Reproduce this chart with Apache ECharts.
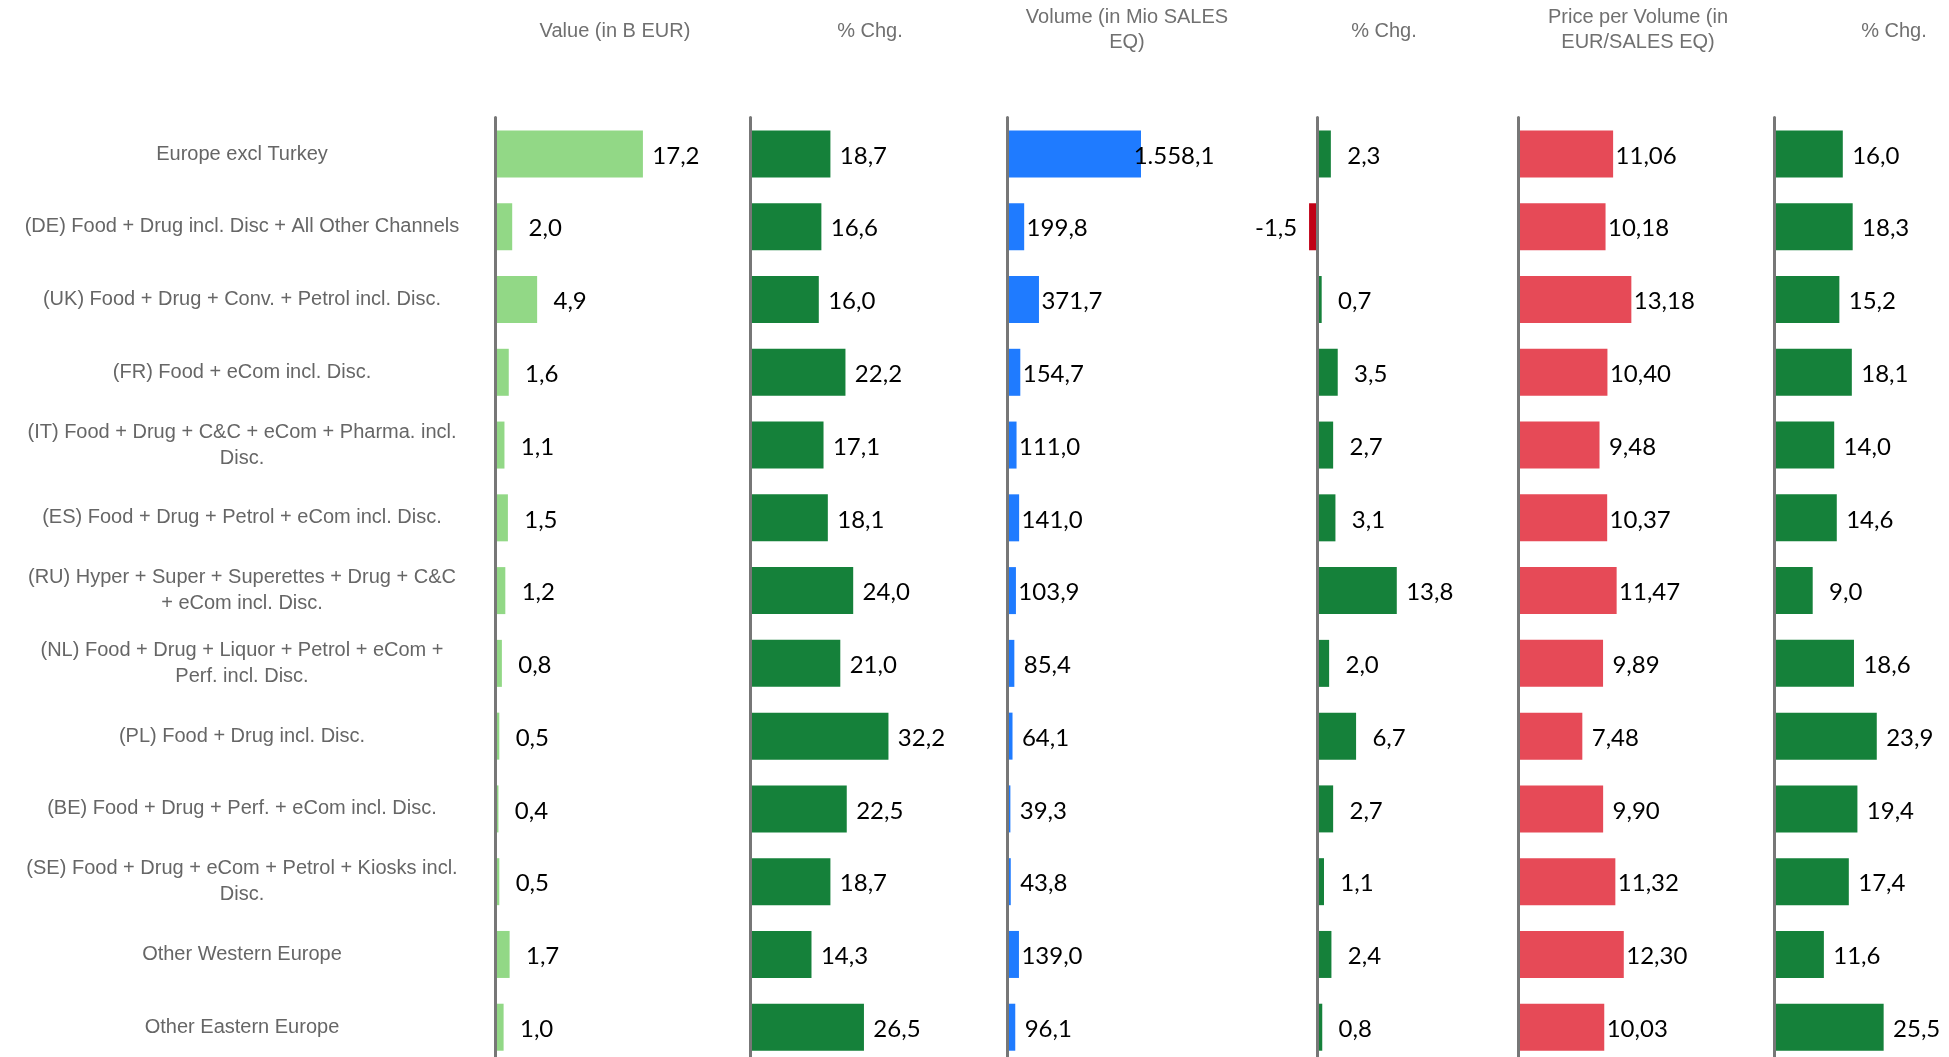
<!DOCTYPE html>
<html>
<head>
<meta charset="utf-8">
<script src="https://cdn.jsdelivr.net/npm/echarts@6/dist/echarts.min.js"></script>
<style>
  html, body { margin: 0; padding: 0; background: #fff; }
  #chart { width: 1949px; height: 1057px; }
</style>
</head>
<body>
<div id="chart"></div>
<script>
// categories (top to bottom)
const categories = [
  'Europe excl Turkey',
  '(DE) Food + Drug incl. Disc + All Other Channels',
  '(UK) Food + Drug + Conv. + Petrol incl. Disc.',
  '(FR) Food + eCom incl. Disc.',
  '(IT) Food + Drug + C&C + eCom + Pharma. incl.\nDisc.',
  '(ES) Food + Drug + Petrol + eCom incl. Disc.',
  '(RU) Hyper + Super + Superettes + Drug + C&C\n+ eCom incl. Disc.',
  '(NL) Food + Drug + Liquor + Petrol + eCom +\nPerf. incl. Disc.',
  '(PL) Food + Drug incl. Disc.',
  '(BE) Food + Drug + Perf. + eCom incl. Disc.',
  '(SE) Food + Drug + eCom + Petrol + Kiosks incl.\nDisc.',
  'Other Western Europe',
  'Other Eastern Europe'
];

const headers = ['Value (in B EUR)', '% Chg.', 'Volume (in Mio SALES\nEQ)', '% Chg.', 'Price per Volume (in\nEUR/SALES EQ)', '% Chg.'];

const valueBEur = [17.2, 2.0, 4.9, 1.6, 1.1, 1.5, 1.2, 0.8, 0.5, 0.4, 0.5, 1.7, 1.0];
const valueChg  = [18.7, 16.6, 16.0, 22.2, 17.1, 18.1, 24.0, 21.0, 32.2, 22.5, 18.7, 14.3, 26.5];
const volume    = [1558.1, 199.8, 371.7, 154.7, 111.0, 141.0, 103.9, 85.4, 64.1, 39.3, 43.8, 139.0, 96.1];
const volumeChg = [2.3, -1.5, 0.7, 3.5, 2.7, 3.1, 13.8, 2.0, 6.7, 2.7, 1.1, 2.4, 0.8];
const price     = [11.06, 10.18, 13.18, 10.40, 9.48, 10.37, 11.47, 9.89, 7.48, 9.90, 11.32, 12.30, 10.03];
const priceChg  = [16.0, 18.3, 15.2, 18.1, 14.0, 14.6, 9.0, 18.6, 23.9, 19.4, 17.4, 11.6, 25.5];

// panel setup: data, decimals, colour, axis range, grid left
const panels = [
  { data: valueBEur, dec: 1, color: '#92D886', min: 0,  max: 20,   left: 495 },
  { data: valueChg,  dec: 1, color: '#15813A', min: 0,  max: 40,   left: 750 },
  { data: volume,    dec: 1, color: '#1F7BFF', min: 0,  max: 2000, left: 1007 },
  { data: volumeChg, dec: 1, color: '#15813A', min: -5, max: 25,   left: 1289 },
  { data: price,     dec: 2, color: '#E64A57', min: 0,  max: 20,   left: 1518 },
  { data: priceChg,  dec: 1, color: '#15813A', min: 0,  max: 40,   left: 1774 }
];
const headerX = [615, 870, 1127, 1384, 1638, 1894];

function fmt(v, d) {
  const neg = v < 0;
  const parts = Math.abs(v).toFixed(d).split('.');
  const int = parts[0].replace(/\B(?=(\d{3})+(?!\d))/g, '.');
  return (neg ? '-' : '') + int + (parts[1] ? ',' + parts[1] : '');
}

const chart = echarts.init(document.getElementById('chart'));

const grid = [], xAxis = [], yAxis = [], series = [], title = [];
panels.forEach((p, i) => {
  grid.push({ left: p.left, width: 172, top: 117.6, height: 946, outerBoundsMode: 'none' });
  xAxis.push({
    type: 'value', gridIndex: i, min: p.min, max: p.max,
    axisLine: { show: false }, axisTick: { show: false },
    axisLabel: { show: false }, splitLine: { show: false }
  });
  yAxis.push({
    type: 'category', gridIndex: i, data: categories, inverse: true, z: 5,
    axisLine: { show: true, onZero: true, lineStyle: { color: '#777', width: 3 } },
    axisTick: { show: false },
    axisLabel: i === 0 ? {
      show: true, align: 'center', margin: 253,
      fontFamily: 'Liberation Sans, Arial', fontSize: 20, color: '#666',
      lineHeight: 26
    } : { show: false }
  });
  series.push({
    type: 'bar', xAxisIndex: i, yAxisIndex: i, barWidth: 47,
    itemStyle: { color: p.color },
    label: {
      show: true, position: 'right', distance: 33, align: 'center', offset: [0, 2],
      fontFamily: 'Lato, Open Sans', fontSize: 24, color: '#000',
      formatter: (prm) => fmt(prm.value, p.dec)
    },
    data: p.data.map(v => v < 0 ? {
      value: v,
      itemStyle: { color: '#C00016' },
      label: { position: 'left' }
    } : v)
  });
  const twoLine = headers[i].indexOf('\n') >= 0;
  title.push({
    text: headers[i], left: headerX[i], top: twoLine ? 5 : 19,
    textAlign: 'center', padding: 0,
    textStyle: {
      fontFamily: 'Liberation Sans, Arial', fontSize: 20, fontWeight: 'normal',
      color: '#707070', lineHeight: 25
    }
  });
});

chart.setOption({
  animation: false,
  title: title,
  grid: grid,
  xAxis: xAxis,
  yAxis: yAxis,
  series: series
});
</script>
</body>
</html>
